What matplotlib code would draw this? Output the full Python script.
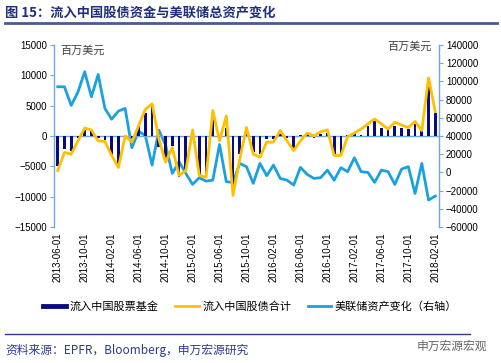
import matplotlib
matplotlib.use("Agg")
import matplotlib.pyplot as plt
from matplotlib.lines import Line2D
import numpy as np
import pandas as pd

plt.rcParams['font.family'] = ['Liberation Sans', 'Noto Sans CJK SC', 'DejaVu Sans']

months = pd.date_range('2013-06-01', '2018-02-01', freq='MS')

equity_fund = [-4900, -2200, -2400, -300, 1000, 900, -400, -600, -3200, -4700,
               -200, -300, 1600, 3800, 5000, -1800, -3800, -1600, -6800, -5500,
               300, -6500, -7000, 3600, -600, 1400, -8000, -3000, 1400, -2700,
               -3000, -500, -500, 300, -300, -2000, 200, 300, -300, 400,
               500, -3000, -3000, 200, 500, 200, 1700, 2400, 1400, 1100,
               1700, 1400, 1100, 1900, 800, 8100, 3800]

total_flow = [-5700, -2700, -3000, -800, 1300, 1000, -800, -900, -3200, -5200,
              0, -1000, 1700, 4400, 5300, -500, -4300, -1900, -6500, -5700,
              1000, -6500, -6800, 4200, -800, 3300, -9800, -3800, 1400, -3000,
              -3500, -1000, -1000, 900, -800, -2400, -800, 500, 0, 700,
              1000, -3200, -3200, -100, 500, 1150, 2000, 2800, 2000, 1150,
              2260, 1800, 1400, 2400, 900, 9600, 4000]

fed_assets = [94100, 94100, 73600, 88300, 110600, 83100, 107600, 70300, 58500, 67300,
              70300, 27100, 45300, 40300, 8000, 46400, 30000, -1100, 11700, -1100,
              -13200, -5800, -9600, -8500, 30700, -10200, -11000, 9900, 6300, -12100,
              9900, -3600, 8000, -6600, -8500, -13900, 5500, -2200, -6600, -5800,
              2500, -8500, 5200, 800, 16100, 800, 0, -11000, 2500, 800,
              -13200, 3600, 6300, -23100, 9900, -30400, -26000]

tick_labels = ['2013-06-01', '2013-10-01', '2014-02-01', '2014-06-01', '2014-10-01',
               '2015-02-01', '2015-06-01', '2015-10-01', '2016-02-01', '2016-06-01',
               '2016-10-01', '2017-02-01', '2017-06-01', '2017-10-01', '2018-02-01']

left_ticks = [-15000, -10000, -5000, 0, 5000, 10000, 15000]
right_ticks = [-60000, -40000, -20000, 0, 20000, 40000, 60000, 80000, 100000, 120000, 140000]

NAVY = '#0A0A82'
YELLOW = '#FFC000'
CYAN = '#1BA1DF'
AXBLUE = '#6FA8DC'
TITLE = '#1F2F7A'

W, H = 502, 363
fig = plt.figure(figsize=(W / 100, H / 100), dpi=100)

def fx(px):
    return px / W

def fy(py):
    return 1 - py / H

ax = fig.add_axes([fx(54), fy(227), fx(439) - fx(54), fy(45) - fy(227)])
ax2 = ax.twinx()
ax.set_zorder(ax2.get_zorder() + 1)
ax.patch.set_visible(False)

x = np.arange(len(months))
ax.bar(x, equity_fund, width=0.4, color=NAVY, zorder=2)
ax.plot(x, total_flow, color=YELLOW, lw=2.0, zorder=3, solid_joinstyle='round')
ax2.plot(x, fed_assets, color=CYAN, lw=2.0, solid_joinstyle='round')
ax.axhline(0, color=AXBLUE, lw=1.0, zorder=1)

ax.set_xlim(-0.55, len(months) - 0.45)
ax.set_ylim(-15000, 15000)
ax2.set_ylim(-60000, 140000)
ax.set_yticks(left_ticks)
ax2.set_yticks(right_ticks)

ax.set_xticks(np.arange(0, len(months), 4))
ax.set_xticklabels(tick_labels, rotation=90, fontsize=7)
ax.tick_params(axis='x', length=0, pad=4)
ax.tick_params(axis='y', labelsize=7, length=3, color=AXBLUE, pad=2)
ax2.tick_params(axis='y', labelsize=7, length=3, color=AXBLUE, pad=2)

for a in (ax, ax2):
    for s in ('top', 'bottom'):
        a.spines[s].set_visible(False)
ax.spines['right'].set_visible(False)
ax2.spines['left'].set_visible(False)
ax.spines['left'].set_color(AXBLUE)
ax2.spines['right'].set_color(AXBLUE)
ax.spines['left'].set_linewidth(1.0)
ax2.spines['right'].set_linewidth(1.0)

cjk = ['Noto Sans CJK SC', 'DejaVu Sans']
fig.text(fx(60), fy(51), '百万美元', fontsize=8, color='#404040', family=cjk, va='center', ha='left')
fig.text(fx(432), fy(47), '百万美元', fontsize=8, color='#404040', family=cjk, va='center', ha='right')

# title
fig.text(fx(5), fy(12), '图 15：流入中国股债资金与美联储总资产变化', fontsize=9.5,
         fontweight='bold', color=TITLE, family=cjk, va='center', ha='left')
fig.add_artist(Line2D([fx(5), fx(497)], [fy(22.5), fy(22.5)], color='#4B5B8F', lw=2.0))

# legend
handles = [Line2D([], [], color=NAVY, lw=3.5),
           Line2D([], [], color=YELLOW, lw=2.0),
           Line2D([], [], color=CYAN, lw=2.0)]
labels = ['流入中国股票基金', '流入中国股债合计', '美联储资产变化（右轴）']
fig.legend(handles, labels, loc='center', bbox_to_anchor=(fx(250), fy(307)), ncol=3,
           frameon=False, prop={'family': cjk, 'size': 8}, handlelength=2.1,
           handletextpad=0.3, columnspacing=1.5)

# bottom line and source
fig.add_artist(Line2D([fx(5), fx(470)], [fy(334), fy(334)], color='#2E3A8C', lw=1.0))
fig.text(fx(5), fy(350), '资料来源：EPFR，Bloomberg，申万宏源研究', fontsize=8.5,
         color='#2E3A8C', family=cjk, va='center', ha='left')
fig.text(fx(487), fy(346), '申万宏源宏观', fontsize=8.5, color='#555555', family=cjk,
         va='center', ha='right', alpha=0.9)

fig.savefig('out.png', dpi=100)
